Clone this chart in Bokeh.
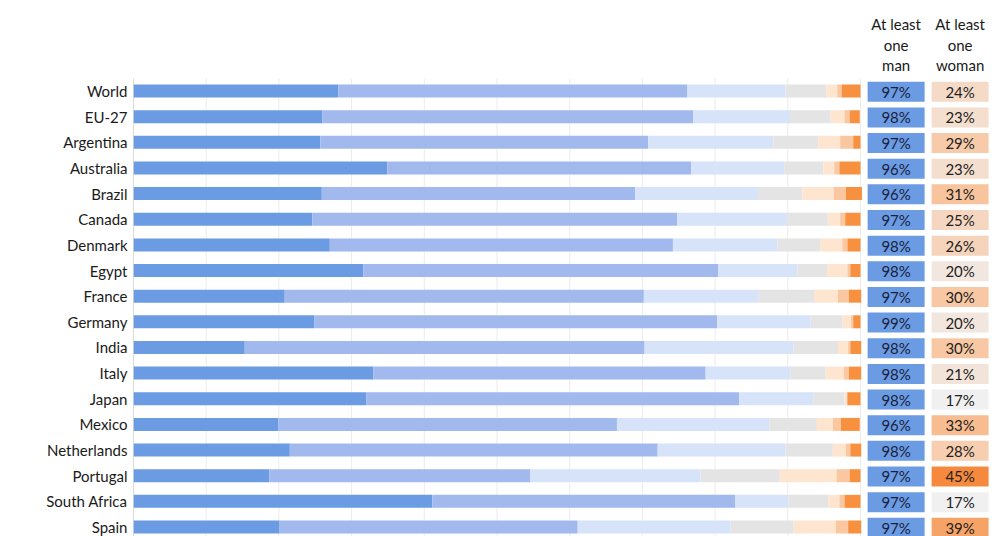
from bokeh.plotting import figure
from bokeh.models import Range1d, FixedTicker, ColumnDataSource
from bokeh.core.properties import value
from bokeh.embed import file_html
from bokeh.resources import INLINE

countries = ["World", "EU-27", "Argentina", "Australia", "Brazil", "Canada", "Denmark",
             "Egypt", "France", "Germany", "India", "Italy", "Japan", "Mexico",
             "Netherlands", "Portugal", "South Africa", "Spain"]

# seven response categories (percent of respondents), left to right
s1 = [28.2, 26.0, 25.7, 34.9, 25.9, 24.6, 27.0, 31.6, 20.8, 24.9, 15.3, 33.0, 32.0, 19.9, 21.5, 18.7, 41.1, 20.1]
s2 = [48.0, 51.0, 45.1, 41.8, 43.1, 50.2, 47.2, 48.8, 49.4, 55.4, 55.0, 45.7, 51.3, 46.6, 50.6, 35.9, 41.7, 41.0]
s3 = [13.5, 13.3, 17.2, 12.8, 16.9, 15.1, 14.4, 10.9, 15.8, 12.8, 20.5, 11.7, 10.2, 21.0, 17.6, 23.4, 7.3, 21.0]
s4 = [5.6, 5.6, 6.2, 5.4, 6.1, 5.6, 5.9, 4.1, 7.6, 4.4, 6.1, 4.8, 4.3, 6.5, 6.5, 10.9, 5.5, 8.7]
s5 = [1.5, 1.9, 3.0, 1.5, 4.3, 1.7, 3.0, 2.8, 3.3, 1.2, 1.4, 2.5, 0.3, 2.2, 1.8, 7.8, 1.5, 5.8]
s6 = [0.6, 0.7, 1.8, 0.7, 1.7, 0.7, 0.7, 0.4, 1.5, 0.3, 0.3, 0.7, 0.1, 1.1, 0.6, 1.8, 0.7, 1.7]
s7 = [2.6, 1.4, 1.0, 2.9, 2.2, 2.1, 1.8, 1.4, 1.7, 1.0, 1.5, 1.7, 1.8, 2.6, 1.5, 1.5, 2.2, 1.8]

at_least_one_man = [97, 98, 97, 96, 96, 97, 98, 98, 97, 99, 98, 98, 98, 96, 98, 97, 97, 97]
at_least_one_woman = [24, 23, 29, 23, 31, 25, 26, 20, 30, 20, 30, 21, 17, 33, 28, 45, 17, 39]

grid_ticks = [0, 10, 20, 30, 40, 50, 60, 70, 80, 90, 100]

seg_colors = ["#6a9be3", "#a2b9ee", "#d7e3f8", "#e4e4e4", "#fde5cf", "#fbc7a0", "#f7913f"]
man_color = "#6a9be3"


def hex2rgb(h):
    h = h.lstrip("#")
    return tuple(int(h[i:i + 2], 16) for i in (0, 2, 4))


def woman_color(v):
    stops = [(17, "#f0f0f0"), (30, "#f8c8a4"), (45, "#f58a3e")]
    for (v0, c0), (v1, c1) in zip(stops[:-1], stops[1:]):
        if v <= v1:
            t = max(0.0, (v - v0) / (v1 - v0))
            a, b = hex2rgb(c0), hex2rgb(c1)
            return "#%02x%02x%02x" % tuple(round(a[i] + (b[i] - a[i]) * t) for i in range(3))
    return stops[-1][1]


n = len(countries)
ys = list(range(n))
keys = ["s1", "s2", "s3", "s4", "s5", "s6", "s7"]
src = ColumnDataSource(dict(y=ys, s1=s1, s2=s2, s3=s3, s4=s4, s5=s5, s6=s6, s7=s7))

FONT = "Lato"
LEFT = 133
W, H = 1000, 536
x_end = 100 * (W - LEFT) / 727
y_bottom, y_top = 17.37, -3.528
frame_top = -0.487

p = figure(width=W, height=H, output_backend="svg", toolbar_location=None,
           x_range=Range1d(0, x_end), y_range=Range1d(y_bottom, y_top),
           min_border_left=LEFT, min_border_right=0, min_border_top=0, min_border_bottom=0)
p.outline_line_color = None
p.background_fill_color = "white"
p.border_fill_color = "white"
p.xaxis.visible = False
p.xgrid.grid_line_color = None
p.ygrid.grid_line_color = None

# vertical gridlines (only over the bar area) and left axis line
p.segment(x0=grid_ticks[1:], x1=grid_ticks[1:], y0=frame_top, y1=y_bottom,
          line_color="#ececec", line_width=1)
p.segment(x0=[0], x1=[0], y0=[frame_top], y1=[y_bottom], line_color="#b8b8b8", line_width=1)

p.hbar_stack(keys, y="y", height=0.507, color=seg_colors, source=src, line_color=None)

p.yaxis.ticker = FixedTicker(ticks=ys)
p.yaxis.major_label_overrides = {i: c for i, c in enumerate(countries)}
p.yaxis.major_tick_line_color = None
p.yaxis.minor_tick_line_color = None
p.yaxis.major_tick_out = 0
p.yaxis.major_label_standoff = 6
p.yaxis.axis_line_color = None
p.yaxis.major_label_text_font = FONT
p.yaxis.major_label_text_font_size = "15px"
p.yaxis.major_label_text_color = "#1a1a1a"

# summary columns
man_x, woman_x, col_w = 104.9, 113.7, 7.84
cell_y = [y + 0.03 for y in ys]
cells = ColumnDataSource(dict(
    y=cell_y,
    man=[f"{v}%" for v in at_least_one_man],
    woman=[f"{v}%" for v in at_least_one_woman],
    wcol=[woman_color(v) for v in at_least_one_woman],
))
p.rect(x=man_x, y="y", width=col_w, height=0.78, fill_color=man_color, line_color=None, source=cells)
p.rect(x=woman_x, y="y", width=col_w, height=0.78, fill_color="wcol", line_color=None, source=cells)
p.text(x=man_x, y="y", text="man", source=cells, text_align="center", text_baseline="middle",
       text_font=value(FONT), text_font_size="15px", text_color="#1b1f3b")
p.text(x=woman_x, y="y", text="woman", source=cells, text_align="center", text_baseline="middle",
       text_font=value(FONT), text_font_size="15px", text_color="#222222")

header_y = [-2.593, -1.774, -0.994]
hdr = ColumnDataSource(dict(
    x=[man_x] * 3 + [woman_x] * 3,
    y=header_y * 2,
    t=["At least", "one", "man", "At least", "one", "woman"],
))
p.text(x="x", y="y", text="t", source=hdr, text_align="center", text_baseline="middle",
       text_font=value(FONT), text_font_size="15px", text_color="#1a1a1a")

open("out.html", "w").write(file_html(p, INLINE))
